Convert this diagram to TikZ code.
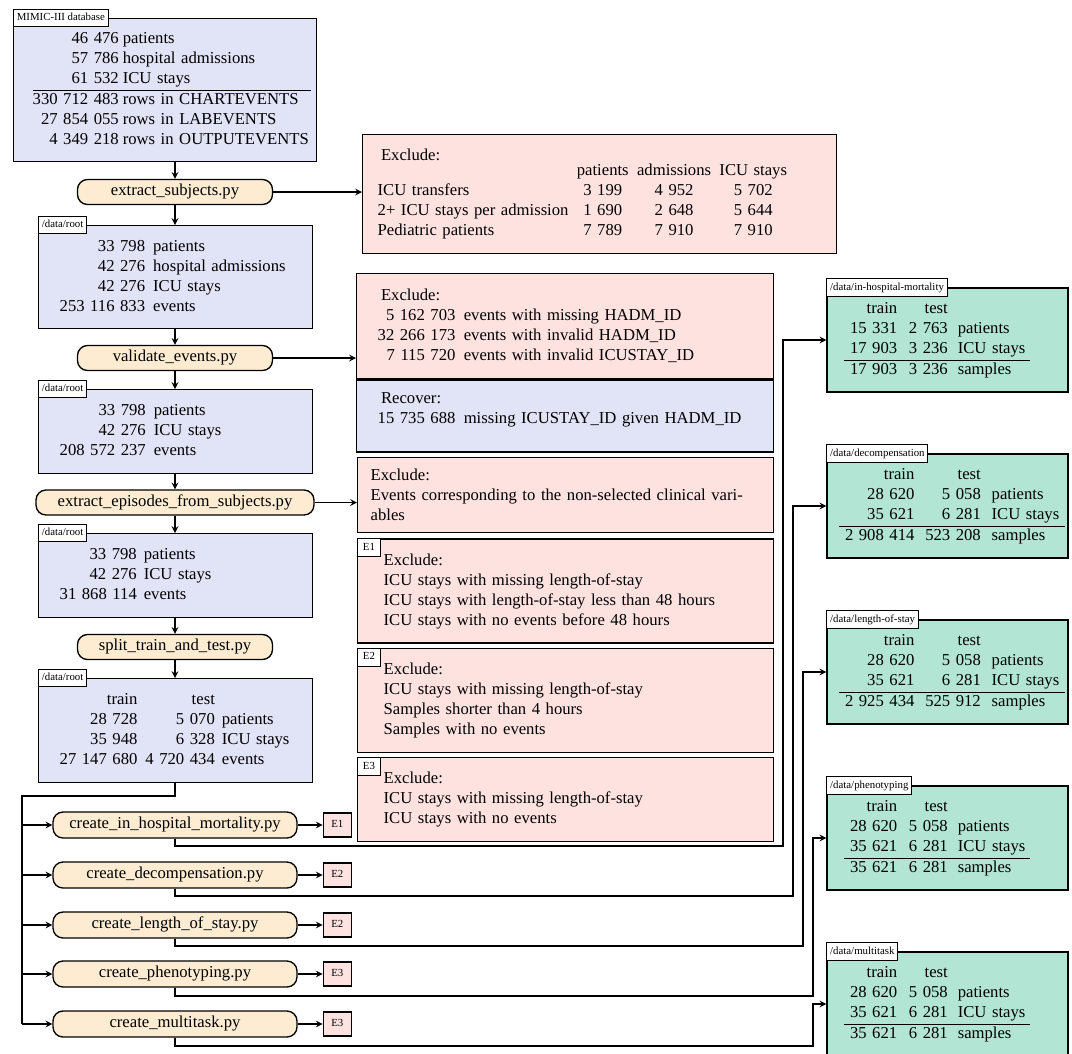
\documentclass[tikz,border=0pt]{standalone}
\usepackage{amsmath,amssymb}
\usepackage{fontspec}
\setmainfont{Liberation Serif}
\usepackage{tikz}
\usetikzlibrary{shapes,arrows,positioning,fit,calc}

\definecolor{rootblue}{RGB}{225,227,246}
\definecolor{scriptcream}{RGB}{253,236,210}
\definecolor{excludepink}{RGB}{253,226,224}
\definecolor{taskgreen}{RGB}{178,229,212}

\begin{document}
\begin{tikzpicture}[x=0.6pt, y=-0.6pt,
    every node/.style={font=\fontsize{10}{12}\selectfont},
    databox/.style={draw, thick, fill=rootblue, anchor=north west, inner sep=0pt, text width=164.4pt, align=left},
    script/.style={draw, thick, fill=scriptcream, rounded corners=6pt, minimum width=117pt, minimum height=15pt, inner ysep=0pt, text height=7pt, text depth=2.3pt},
    excludebox/.style={draw, thick, fill=excludepink, anchor=north west, inner sep=0pt, text width=249.6pt, align=left},
    taskbox/.style={draw, thick, fill=taskgreen, inner sep=0pt, text width=144.6pt, minimum height=62.4pt, align=left},
    tag/.style={draw, semithick, fill=white, font=\fontsize{6.5}{7.5}\selectfont, inner xsep=2pt, inner ysep=2.3pt, text height=4.6pt, text depth=1.3pt},
    etag/.style={tag, thick, fill=excludepink, minimum width=16.8pt, minimum height=14.4pt},
    link/.style={thick, -stealth}]
                    \useasboundingbox (0,0) rectangle (1072,1053);
                    % main column
                    \node[databox, text width=181.8pt, minimum height=85.8pt] (b0) at (13,18) {\hspace*{11.4pt}\begin{tabular}{@{}r@{\hspace{2.4pt}}l@{\hspace{1.5pt}}}
                        46~476 & patients\\ 57~786 & hospital admissions\\ 61~532 & ICU stays\\ \hline
                        330~712~483 & rows in CHARTEVENTS\\ 27~854~055 & rows in LABEVENTS\\ 4~349~218 & rows in OUTPUTEVENTS
                    \end{tabular}};
                    \node[tag, anchor=west] (b0lab) at (b0.north west) {MIMIC-III database};
                    \node[script] (p1) at (175,192) {extract\_subjects.py};
                    \node[databox, minimum height=61.8pt] (b1) at (38,225) {\hspace*{12.6pt}\begin{tabular}{@{}r@{\hspace{4.8pt}}l@{}}
                        33~798 & patients\\ 42~276 & hospital admissions\\ 42~276 & ICU stays\\ 253~116~833 & events
                    \end{tabular}};
                    \node[tag, anchor=west] (b1lab) at (b1.north west) {/data/root};
                    \node[script] (p2) at (175,358) {validate\_events.py};
                    \node[databox, minimum height=50.4pt] (b2) at (38,389) {\hspace*{12.6pt}\begin{tabular}{@{}r@{\hspace{4.8pt}}l@{}}
                        33~798 & patients\\ 42~276 & ICU stays\\ 208~572~237 & events
                    \end{tabular}};
                    \node[tag, anchor=west] (b2lab) at (b2.north west) {/data/root};
                    \node[script, minimum width=166.8pt] (p3) at (175,502.5) {extract\_episodes\_from\_subjects.py};
                    \node[databox, minimum height=50.4pt] (b3) at (38,533) {\hspace*{12.6pt}\begin{tabular}{@{}r@{\hspace{4.2pt}}l@{}}
                        33~798 & patients\\ 42~276 & ICU stays\\ 31~868~114 & events
                    \end{tabular}};
                    \node[tag, anchor=west] (b3lab) at (b3.north west) {/data/root};
                    \node[script] (p4) at (175,647) {split\_train\_and\_test.py};
                    \node[databox, minimum height=62.4pt] (b4) at (38,678) {\hspace*{12.6pt}\begin{tabular}{@{}r@{\hspace{4.8pt}}r@{\hspace{4.2pt}}l@{}}
                        train & test & \\ 28~728 & 5~070 & patients\\ 35~948 & 6~328 & ICU stays\\ 27~147~680 & 4~720~434 & events
                    \end{tabular}};
                    \node[tag, anchor=west] (b4lab) at (b4.north west) {/data/root};

                    % task scripts
                    \node[script, minimum width=146.4pt, minimum height=15.6pt] (cr1) at (175,825) {create\_in\_hospital\_mortality.py};
                    \node[script, minimum width=146.4pt, minimum height=15.6pt] (cr2) at (175,875) {create\_decompensation.py};
                    \node[script, minimum width=146.4pt, minimum height=15.6pt] (cr3) at (175,925) {create\_length\_of\_stay.py};
                    \node[script, minimum width=146.4pt, minimum height=15.6pt] (cr4) at (175,974) {create\_phenotyping.py};
                    \node[script, minimum width=146.4pt, minimum height=15.6pt] (cr5) at (175,1024) {create\_multitask.py};
                    \node[etag, right=15pt of cr1] (t1) {E1};
                    \node[etag, right=15pt of cr2] (t2) {E2};
                    \node[etag, right=15pt of cr3] (t3) {E2};
                    \node[etag, right=15pt of cr4] (t4) {E3};
                    \node[etag, right=15pt of cr5] (t5) {E3};

                    % exclusions
                    \node[excludebox, text width=284.4pt, minimum height=71.4pt] (ex1) at (362,134) {\hspace*{9pt}\begin{tabular}{@{}l@{\hspace{5pt}}c@{\hspace{5pt}}c@{\hspace{5pt}}c@{}}
                        \multicolumn{4}{@{\hspace{2pt}}l}{Exclude:}\\[-3pt]
                        & patients & admissions & ICU stays\\
                        ICU transfers & 3~199 & 4~952 & 5~702\\
                        2+ ICU stays per admission & 1~690 & 2~648 & 5~644\\
                        Pediatric patients & 7~789 & 7~910 & 7~910
                    \end{tabular}};
                    \node[excludebox, text width=250.2pt, minimum height=63pt] (ex2) at (356,273) {\hspace*{12.6pt}\begin{tabular}{@{}r@{\hspace{5pt}}l@{}}
                        \multicolumn{2}{@{\hspace{2pt}}l}{Exclude:}\\
                        5~162~703 & events with missing HADM\_ID\\
                        32~266~173 & events with invalid HADM\_ID\\
                        7~115~720 & events with invalid ICUSTAY\_ID
                    \end{tabular}};
                    \node[excludebox, fill=rootblue, text width=250.2pt, minimum height=43.2pt, below=0pt of ex2] (rec2) {\hspace*{12.6pt}\begin{tabular}{@{}r@{\hspace{5pt}}l@{}}
                        \multicolumn{2}{@{\hspace{2pt}}l}{Recover:}\\
                        15~735~688 & missing ICUSTAY\_ID given HADM\_ID\\[8pt]
                    \end{tabular}};
                    \node[excludebox, minimum height=45pt] (ex3) at (357,457) {\hspace*{7.8pt}\parbox[t]{225pt}{Exclude:\\Events corresponding to the non-selected clinical vari-\break ables}};
                    \node[excludebox, minimum height=62.4pt, below=3pt of ex3] (e1) {\hspace*{15.6pt}\begin{tabular}{@{}l@{}}
                        Exclude:\\ ICU stays with missing length-of-stay\\ ICU stays with length-of-stay less than 48 hours\\ ICU stays with no events before 48 hours
                    \end{tabular}};
                    \node[tag, anchor=north west, minimum width=13.8pt, minimum height=10.8pt] (e1lab) at (e1.north west) {E1};
                    \node[excludebox, minimum height=62.4pt, below=2.4pt of e1] (e2) {\hspace*{15.6pt}\begin{tabular}{@{}l@{}}
                        Exclude:\\ ICU stays with missing length-of-stay\\ Samples shorter than 4 hours\\ Samples with no events
                    \end{tabular}};
                    \node[tag, anchor=north west, minimum width=13.8pt, minimum height=10.8pt] (e2lab) at (e2.north west) {E2};
                    \node[excludebox, minimum height=50.4pt, below=2.4pt of e2] (e3) {\hspace*{15.6pt}\begin{tabular}{@{}l@{}}
                        Exclude:\\ ICU stays with missing length-of-stay\\ ICU stays with no events
                    \end{tabular}};
                    \node[tag, anchor=north west, minimum width=13.8pt, minimum height=10.8pt] (e3lab) at (e3.north west) {E3};

                    % task outputs
                    \node[taskbox] (ihm) at (947.5,340) {\hspace*{10.2pt}\begin{tabular}{@{\hspace{3.6pt}}r@{\hspace{7pt}}r@{\hspace{6pt}}l@{\hspace{3pt}}}
                        train & test & \\ 15~331 & 2~763 & patients\\ 17~903 & 3~236 & ICU stays\\ \hline 17~903 & 3~236 & samples
                    \end{tabular}};
                    \node[tag, anchor=west] (ihmlab) at (ihm.north west) {/data/in-hospital-mortality};
                    \node[taskbox] (dec) at (947.5,506) {\hspace*{7.2pt}\begin{tabular}{@{\hspace{3.6pt}}r@{\hspace{6.5pt}}r@{\hspace{6.5pt}}l@{\hspace{3.6pt}}}
                        train & test & \\ 28~620 & 5~058 & patients\\ 35~621 & 6~281 & ICU stays\\ \hline 2~908~414 & 523~208 & samples
                    \end{tabular}};
                    \node[tag, anchor=west] (declab) at (dec.north west) {/data/decompensation};
                    \node[taskbox] (los) at (947.5,672) {\hspace*{7.2pt}\begin{tabular}{@{\hspace{3.6pt}}r@{\hspace{6.5pt}}r@{\hspace{6.5pt}}l@{\hspace{3.6pt}}}
                        train & test & \\ 28~620 & 5~058 & patients\\ 35~621 & 6~281 & ICU stays\\ \hline 2~925~434 & 525~912 & samples
                    \end{tabular}};
                    \node[tag, anchor=west] (loslab) at (los.north west) {/data/length-of-stay};
                    \node[taskbox] (phe) at (947.5,838) {\hspace*{10.2pt}\begin{tabular}{@{\hspace{3.6pt}}r@{\hspace{7pt}}r@{\hspace{6pt}}l@{\hspace{3pt}}}
                        train & test & \\ 28~620 & 5~058 & patients\\ 35~621 & 6~281 & ICU stays\\ \hline 35~621 & 6~281 & samples
                    \end{tabular}};
                    \node[tag, anchor=west] (phelab) at (phe.north west) {/data/phenotyping};
                    \node[taskbox] (mtl) at (947.5,1004) {\hspace*{10.2pt}\begin{tabular}{@{\hspace{3.6pt}}r@{\hspace{7pt}}r@{\hspace{6pt}}l@{\hspace{3pt}}}
                        train & test & \\ 28~620 & 5~058 & patients\\ 35~621 & 6~281 & ICU stays\\ \hline 35~621 & 6~281 & samples
                    \end{tabular}};
                    \node[tag, anchor=west] (mtllab) at (mtl.north west) {/data/multitask};

                    % connectors
                    \draw[link] (b0.south -| p1.north) -- (p1.north);
                    \draw[link] (p1.south) -- (b1.north -| p1.south);
                    \draw[link] (b1.south -| p2.north) -- (p2.north);
                    \draw[link] (p2.south) -- (b2.north -| p2.south);
                    \draw[link] (b2.south -| p3.north) -- (p3.north);
                    \draw[link] (p3.south) -- (b3.north -| p3.south);
                    \draw[link] (b3.south -| p4.north) -- (p4.north);
                    \draw[link] (p4.south) -- (b4.north -| p4.south);
                    \draw[link] (p1.east) -- (p1.east -| ex1.west);
                    \draw[link] (p2.east) -- (p2.east -| ex2.west);
                    \draw[link] (p3.east) -- (p3.east -| ex3.west);
                    \coordinate (bus) at (22,796);
                    \draw[thick] (b4.south -| p4.south) |- (bus) -- (bus |- cr5.west);
                    \foreach \c/\t in {cr1/t1, cr2/t2, cr3/t3, cr4/t4, cr5/t5} {
                        \draw[link] (bus |- \c.west) -- (\c.west);
                        \draw[link] (\c.east) -- (\t.west);
                    }
                    \coordinate (k1) at (783,846);
                    \coordinate (k2) at (793,896);
                    \coordinate (k3) at (803,946);
                    \coordinate (k4) at (813,996);
                    \coordinate (k5) at (813,1046);
                    \foreach \c/\k/\d in {cr1/k1/ihm, cr2/k2/dec, cr3/k3/los, cr4/k4/phe, cr5/k5/mtl}
                        \draw[link] (\c.south) |- (\k) |- (\d.west);
                \end{tikzpicture}
\end{document}
